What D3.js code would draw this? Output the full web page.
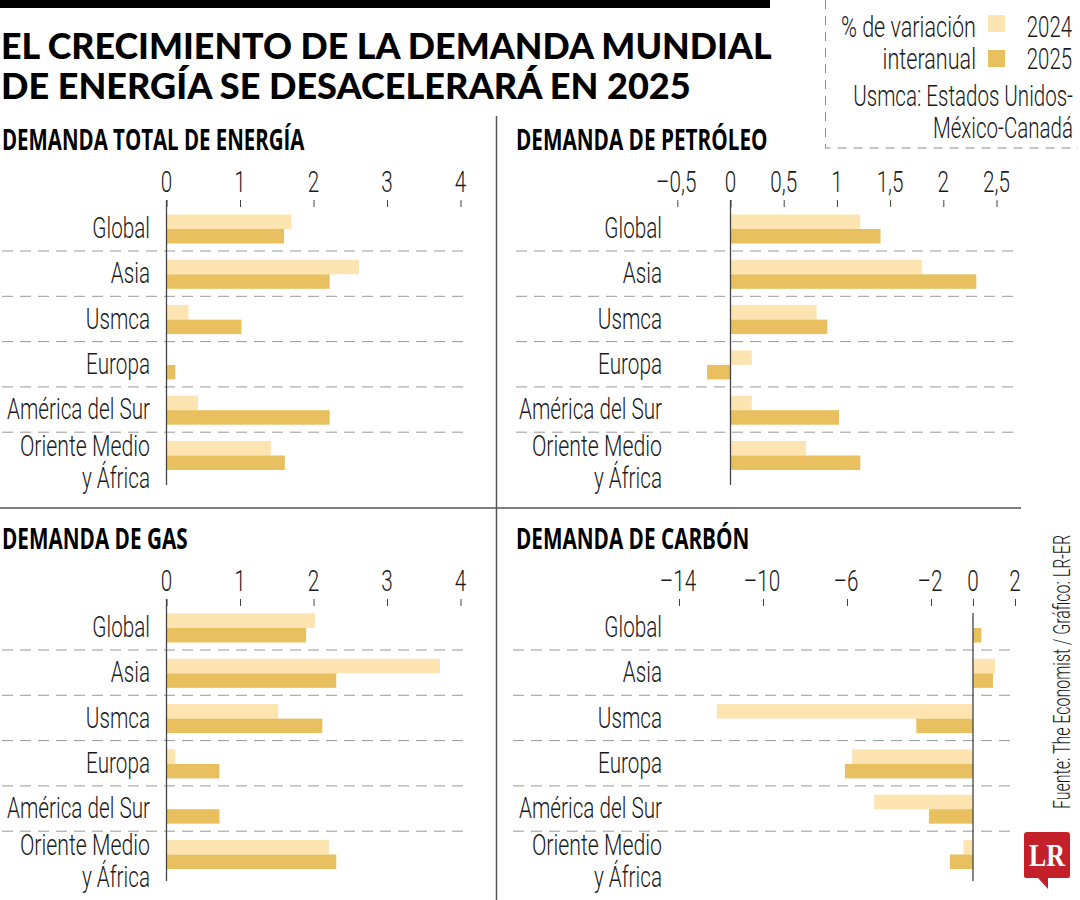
<!DOCTYPE html>
<html><head><meta charset="utf-8"><script src="https://cdn.jsdelivr.net/npm/d3@7"></script>
<style>html,body{margin:0;background:#fff}svg{display:block}</style></head><body><svg id="c" width="1080" height="900"></svg>
<script>
const categories=["Global","Asia","Usmca","Europa","América del Sur","Oriente Medio\ny África"];
const years=["2024","2025"];
const energia2024=[1.7,2.62,0.3,0,0.43,1.42], energia2025=[1.6,2.22,1.02,0.12,2.22,1.61];
const petroleo2024=[1.22,1.8,0.81,0.2,0.2,0.71], petroleo2025=[1.41,2.31,0.91,-0.22,1.02,1.22];
const gas2024=[2.02,3.72,1.52,0.12,0,2.21], gas2025=[1.9,2.31,2.12,0.72,0.72,2.31];
const carbon2024=[0,1.05,-12.2,-5.75,-4.7,-0.45], carbon2025=[0.4,0.95,-2.7,-6.1,-2.1,-1.1];
const ticksEnergia=[0,1,2,3,4], ticksPetroleo=[-0.5,0,0.5,1,1.5,2,2.5], ticksGas=[0,1,2,3,4], ticksCarbon=[-14,-10,-6,-2,0,2];
const titleLines=["EL CRECIMIENTO DE LA DEMANDA MUNDIAL","DE ENERGÍA SE DESACELERARÁ EN 2025"];
const C24="#fde4b1",C25="#e9c05f",INK="#1a1a1a";
const svg=d3.select("#c");
const LIGHT="Roboto",BOLD="'Open Sans'";
function txt(g,x,y,s,size,anchor,weight,sx,fam){
  return g.append("text").attr("transform",`translate(${x},${y}) scale(${sx},1)`)
   .attr("text-anchor",anchor).attr("font-family",fam).attr("font-weight",weight)
   .attr("font-size",size).attr("fill",INK).text(s);
}
const light=(g,x,y,s,a="end",size=30,sx=0.69)=>txt(g,x,y,s,size,a,300,sx,LIGHT);
svg.append("rect").attr("x",0).attr("y",0).attr("width",770).attr("height",8).attr("fill","#000");
[[titleLines[0],59,771],[titleLines[1],99,690]].forEach(([s,y,w])=>{
  const t=txt(svg,1,y,s,35.5,"start",900,1,"Lato").attr("fill","#000");
  t.attr("transform",`translate(1,${y}) scale(${w/t.node().getComputedTextLength()},1)`);
});
const frame=svg.append("g").attr("stroke","#555").attr("stroke-width",1.5);
frame.append("line").attr("x1",496.5).attr("x2",496.5).attr("y1",116).attr("y2",900);
frame.append("line").attr("x1",0).attr("x2",1021).attr("y1",508).attr("y2",508);
const lg=svg.append("g");
lg.append("path").attr("d","M825.5,0V148H1078").attr("fill","none").attr("stroke","#888").attr("stroke-dasharray","9 7");
light(lg,976,37,"% de variación","end",30,0.72);light(lg,976,69,"interanual","end",30,0.72);
lg.append("rect").attr("x",988).attr("y",15).attr("width",17).attr("height",17).attr("fill",C24);
lg.append("rect").attr("x",988).attr("y",50).attr("width",17).attr("height",17).attr("fill",C25);
light(lg,1072,37,years[0],"end",30,0.68);light(lg,1072,69,years[1],"end",30,0.68);
light(lg,1073,106,"Usmca: Estados Unidos-","end",30,0.685);light(lg,1073,138,"México-Canadá","end",30,0.685);
const rowStep=45.3;
const yBand=d3.scaleBand().domain(categories).range([0,rowStep*6]).paddingInner(0).paddingOuter(0);
function panel(o){
  const g=svg.append("g").attr("transform",`translate(0,${o.top})`);
  txt(g,o.titleX,-50,o.title,28,"start",700,o.titleSx,BOLD).attr("fill","#000");
  const x=d3.scaleLinear().domain(o.domain).range(o.range);
  const ax=d3.axisTop(x).tickValues(o.ticks).tickSize(7).tickSizeOuter(0).tickFormat(()=>"");
  const ag=g.append("g").attr("transform","translate(0,7)").call(ax);
  ag.select(".domain").remove();
  ag.selectAll("line").attr("stroke","#444");
  o.ticks.forEach(t=>{
    const s=String(t).replace(".",",").replace("-","–");
    light(g,x(t)-(t<0?1:0),-8,s,"middle");
  });
  const b=g.append("g");
  categories.forEach((c,i)=>{
    const y0=yBand(c)+14.5;
    [[o.a,C24,0],[o.b,C25,14.5]].forEach(([arr,col,dy])=>{
      const v=arr[i]; if(!v) return;
      b.append("rect").attr("x",Math.min(x(0),x(v))).attr("width",Math.abs(x(v)-x(0)))
       .attr("y",y0+dy).attr("height",14.5).attr("fill",col);
    });
    if(i<5) g.append("line").attr("x1",o.dash[0]).attr("x2",o.dash[1])
      .attr("y1",yBand(c)+51).attr("y2",yBand(c)+51).attr("stroke","#999").attr("stroke-dasharray","11 7");
    const ls=c.split("\n"), lx=o.labelX;
    if(ls.length===1) light(g,lx,yBand(c)+38,ls[0]);
    else {light(g,lx,yBand(c)+29,ls[0],"end",30,0.71);light(g,lx,yBand(c)+61,ls[1]);}
  });
  g.append("line").attr("x1",x(0)).attr("x2",x(0)).attr("y1",o.axisTop).attr("y2",o.axisBottom).attr("stroke","#444").attr("stroke-width",1.3);
}
panel({top:200,title:"DEMANDA TOTAL DE ENERGÍA",titleSx:0.73,titleX:2,a:energia2024,b:energia2025,domain:[0,4],range:[166.5,460.5],ticks:ticksEnergia,dash:[2,467],labelX:150,axisTop:0,axisBottom:285});
panel({top:200,title:"DEMANDA DE PETRÓLEO",titleSx:0.74,titleX:516,a:petroleo2024,b:petroleo2025,domain:[0,2.5],range:[730.5,996.5],ticks:ticksPetroleo,dash:[516,1015],labelX:662,axisTop:0,axisBottom:285});
panel({top:599,title:"DEMANDA DE GAS",titleSx:0.74,titleX:2,a:gas2024,b:gas2025,domain:[0,4],range:[166.5,460.5],ticks:ticksGas,dash:[2,467],labelX:150,axisTop:0,axisBottom:282});
panel({top:599,title:"DEMANDA DE CARBÓN",titleSx:0.74,titleX:516,a:carbon2024,b:carbon2025,domain:[0,2],range:[973,1015],ticks:ticksCarbon,dash:[513,1015],labelX:662,axisTop:14,axisBottom:282});
svg.append("text").attr("transform","translate(1070,809) rotate(-90) scale(0.665,1)").attr("font-family",LIGHT).attr("font-weight",300).attr("font-size",24).attr("fill",INK).text("Fuente: The Economist / Gráfico: LR-ER");
const logo=svg.append("g");
logo.append("path").attr("d","M1027,832H1067Q1070,832 1070,835V876Q1070,878 1068,878H1048L1048,889L1038,878H1027Q1024,878 1024,876V835Q1024,832 1027,832Z").attr("fill","#c4202a");
logo.append("text").attr("x",1047).attr("y",866).attr("text-anchor","middle").attr("font-family","'Liberation Serif'").attr("font-weight",700).attr("font-size",31).attr("fill","#fff").attr("textLength",36).attr("lengthAdjust","spacingAndGlyphs").text("LR");
</script></body></html>
